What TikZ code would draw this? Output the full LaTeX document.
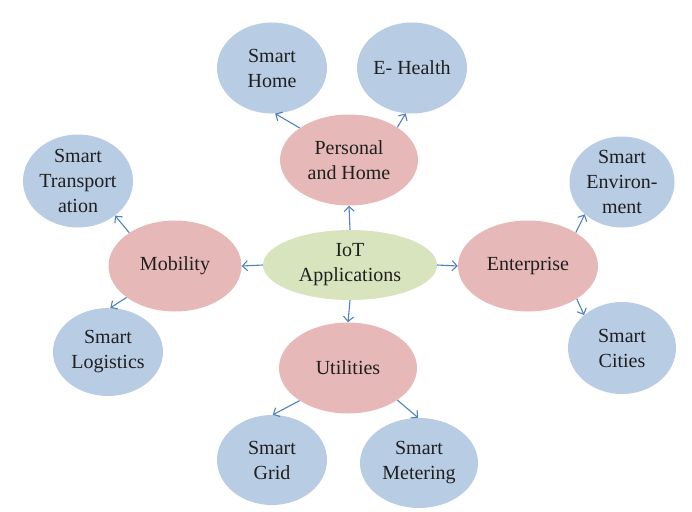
\documentclass[tikz,border=0pt]{standalone}
\usepackage{fontspec}
\setmainfont{Liberation Serif}
\usepackage{tikz}
\usetikzlibrary{arrows.meta}
\usetikzlibrary{shapes.geometric}
\usetikzlibrary{positioning}
\definecolor{leafblue}{RGB}{184,204,228}
\definecolor{midpink}{RGB}{230,184,183}
\definecolor{rootgreen}{RGB}{215,228,189}
\definecolor{arrowblue}{RGB}{79,129,189}
\tikzstyle{bubble}=[ellipse,inner sep=0pt,align=center,text=black!88,font=\fontsize{20}{25}\selectfont]
\tikzstyle{leaf}=[bubble,fill=leafblue,minimum width=110pt,minimum height=91pt]
\tikzstyle{area}=[bubble,fill=midpink,minimum width=138pt,minimum height=91pt]
\tikzstyle{link}=[arrowblue,line width=1.1pt,-{Straight Barb[length=5pt,width=10pt]}]

\begin{document}
\begin{tikzpicture}[x=1pt,y=-1pt]
\useasboundingbox (0,0) rectangle (692,511);
\node [bubble,fill=rootgreen,minimum width=174pt,minimum height=70pt] (iot) at (350,265) {IoT\\Applications};

\node [area] (ph) at (349,160) {Personal\\and Home};
\node [area,minimum width=133pt] (mob) at (175,266) {Mobility};
\node [area,minimum width=140pt] (ent) at (528,266) {Enterprise};
\node [area] (util) at (348,368) {Utilities};

\node [leaf] (sh) at (272,68) {Smart\\Home};
\node [leaf] (eh) at (412,68) {E- Health};
\node [leaf,minimum height=93pt] (st) at (78,181) {Smart\\Transport\\ation};
\node [leaf,minimum height=88pt] (sl) at (108,352) {Smart\\Logistics};
\node [leaf,minimum width=105pt] (env) at (622,182) {Smart\\Environ-\\ment};
\node [leaf,minimum width=108pt,minimum height=92pt] (sc) at (622,348) {Smart\\Cities};
\node [leaf,minimum height=90pt] (sg) at (272,460) {Smart\\Grid};
\node [leaf,minimum width=118pt,minimum height=90pt] (sm) at (419,463) {Smart\\Metering};

\draw [link] (iot.90) -- (ph.-90);
\draw [link] (iot.180) -- (mob.0);
\draw [link] (iot.0) -- (ent.180);
\draw [link] (iot.-90) -- (util.90);

\draw [link] (ph.147) -- (sh.-86);
\draw [link] (ph.34) -- (eh.-98);
\draw [link] (mob.144) -- (st.-43);
\draw [link] (mob.-147) -- (sl.87);
\draw [link] (ent.35) -- (env.-139);
\draw [link] (ent.-34) -- (sc.139);
\draw [link] (util.-146) -- (sg.89);
\draw [link] (util.-33) -- (sm.91);

\end{tikzpicture}
\end{document}
